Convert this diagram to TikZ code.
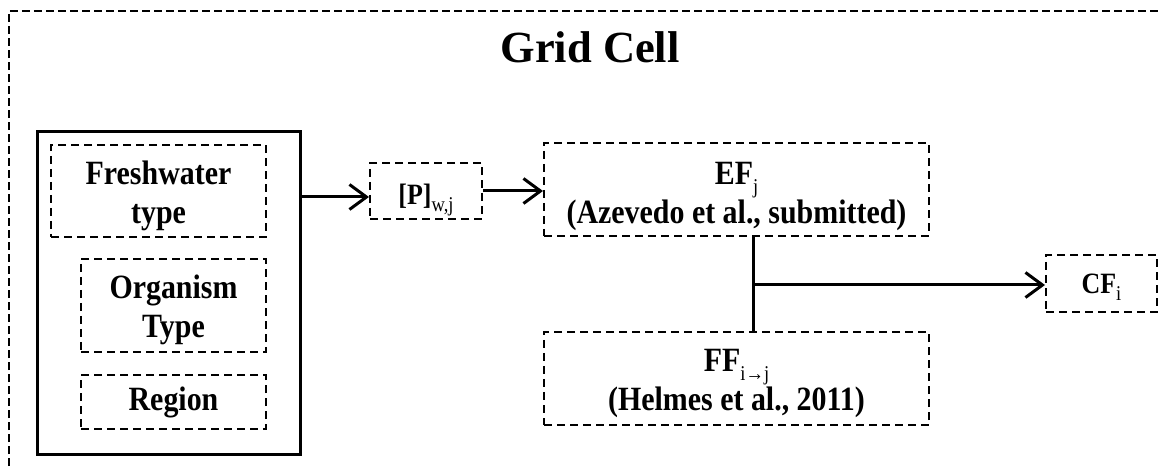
\documentclass[tikz,border=0pt]{standalone}
\usepackage{fontspec}
\setmainfont{Liberation Serif}
\newfontfamily\boxfont[FakeStretch=0.88]{Liberation Serif}
\usetikzlibrary{arrows.meta}

\newcommand{\lowsub}[1]{\raisebox{-0.25em}[0pt][0pt]{\fontsize{21}{21}\selectfont\mdseries #1}}
\newcommand{\lift}[1]{\rule{0pt}{#1pt}}

\tikzset{
  dashbox/.style={draw,line width=2pt,dash pattern=on 8pt off 5pt,inner sep=0pt,
    align=center,font=\boxfont\fontsize{34}{39}\selectfont\bfseries},
  smallbox/.style={dashbox,font=\boxfont\fontsize{29.5}{34}\selectfont\bfseries},
  solidbox/.style={draw,line width=3pt,inner sep=0pt},
  link/.style={line width=3pt}
}

\begin{document}
\begin{tikzpicture}[x=1pt,y=-1pt,>={Straight Barb[length=17pt,width=25pt]}]
\clip (0,0) rectangle (1162,470);

% Grid cell frame
\draw[line width=1.6pt,dash pattern=on 8pt off 4pt] (9,490) -- (9,11) -- (1180,11);
\node[anchor=base,font=\fontsize{44.5}{50}\selectfont\bfseries] (title) at (590,63) {Grid Cell};

% Input box
\node[solidbox,minimum width=263,minimum height=322] (inputs) at (168.5,293) {};
\node[dashbox,minimum width=215,minimum height=92] (fresh) at (158.5,191) {\lift{33}Freshwater\\type};
\node[dashbox,minimum width=185,minimum height=93] (organism) at (173.5,305.5) {\lift{33}Organism\\Type};
\node[dashbox,minimum width=185,minimum height=54] (region) at (173.5,402) {Region};

% Concentration
\node[smallbox,minimum width=112,minimum height=56] (conc) at (426,191) {\lift{30}[P]\lowsub{w,j}};

% Effect and fate factors
\node[dashbox,minimum width=385,minimum height=93] (ef) at (736.5,189.5) {\lift{37}EF\lowsub{j}\\(Azevedo et al., submitted)};
\node[dashbox,minimum width=385,minimum height=93] (ff) at (736.5,378.5) {\lift{33}FF\lowsub{i→j}\\(Helmes et al., 2011)};

% Characterization factor
\node[smallbox,minimum width=111,minimum height=57] (cf) at (1101.5,283.5) {CF\lowsub{i}};

% Links
\coordinate (join) at (753,285);
\draw[link,->] (inputs.east |- 0,197) -- (conc.west |- 0,197);
\draw[link,->] (conc.east) -- (ef.west |- conc.east);
\draw[link] (ef.south -| join) -- (ff.north -| join);
\draw[link,->] (join) -- (cf.west |- join);

\end{tikzpicture}
\end{document}
